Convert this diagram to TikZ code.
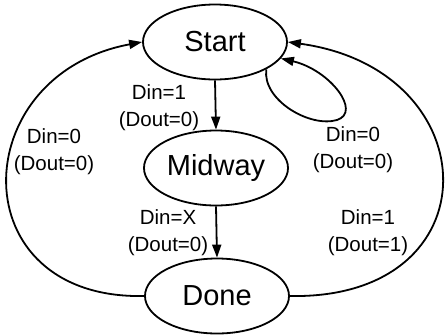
\documentclass[tikz,border=0pt]{standalone}
\usepackage{fontspec}
\setmainfont{Liberation Sans}
\usetikzlibrary{shapes.geometric,arrows.meta}
\begin{document}
\begin{tikzpicture}[x=1pt,y=-1pt,
  state/.style={draw,ellipse,line width=1.8pt,minimum width=144pt,minimum height=75pt,inner sep=0pt,font=\fontsize{29}{34}\selectfont},
  lbl/.style={align=center,inner sep=0pt,font=\fontsize{20.5}{27}\selectfont},
  conn/.style={line width=1.8pt,-{Triangle[length=13pt,width=9pt]}}]
\useasboundingbox (0,0) rectangle (446,335);
\node[state] (start) at (215,42) {Start};
\node[state] (mid) at (216,168) {Midway};
\node[state] (done) at (217,296) {Done};
\draw[conn] (start.south) -- (mid.north);
\draw[conn] (mid.south) -- (done.north);
\draw[conn] (done.west) .. controls (-40,300) and (-35,75) .. (start.west);
\draw[conn] (done.east) .. controls (495,300) and (490,70) .. (start.east);
\draw[conn] (start.-28) .. controls (262,100) and (310,128) .. (337,120)
  .. controls (362,112) and (330,70) .. (start.-14);
\node[lbl] at (159,108) {Din=1\\(Dout=0)};
\node[lbl] at (54,152) {Din=0\\(Dout=0)};
\node[lbl] at (353,150) {Din=0\\(Dout=0)};
\node[lbl] at (168,233) {Din=X\\(Dout=0)};
\node[lbl] at (368,233) {Din=1\\(Dout=1)};
\end{tikzpicture}
\end{document}
